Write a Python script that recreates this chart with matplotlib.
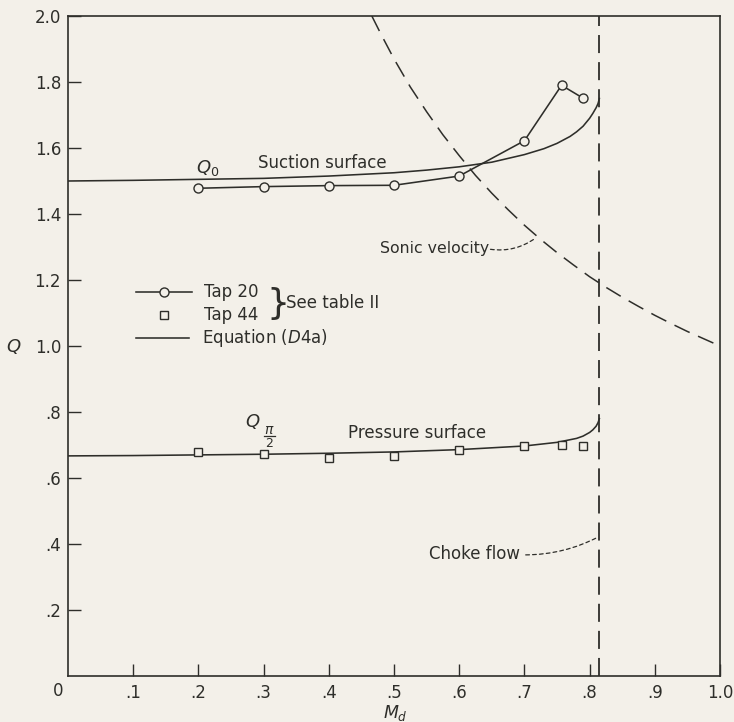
import matplotlib
matplotlib.use("Agg")
import matplotlib.pyplot as plt

# Tap measurements (see table II)
tap20_M = [0.20, 0.30, 0.40, 0.50, 0.60, 0.70, 0.757, 0.79]
tap20_Q = [1.478, 1.483, 1.486, 1.487, 1.515, 1.622, 1.79, 1.751]

tap44_M = [0.20, 0.30, 0.40, 0.50, 0.60, 0.70, 0.757, 0.79]
tap44_Q = [0.680, 0.673, 0.660, 0.667, 0.685, 0.697, 0.700, 0.697]

# Equation (D4a), suction surface (Q_0)
suction_M = [0.0, 0.10, 0.20, 0.30, 0.40, 0.50, 0.55, 0.60, 0.65, 0.70, 0.73,
             0.75, 0.77, 0.78, 0.79, 0.80, 0.805, 0.81, 0.813, 0.815]
suction_Q = [1.500, 1.502, 1.505, 1.508, 1.515, 1.525, 1.533, 1.543, 1.557,
             1.580, 1.598, 1.614, 1.635, 1.649, 1.666, 1.690, 1.705, 1.722,
             1.735, 1.750]

# Equation (D4a), pressure surface (Q_pi/2)
pressure_M = [0.0, 0.10, 0.20, 0.30, 0.40, 0.50, 0.60, 0.70, 0.75, 0.78,
              0.79, 0.80, 0.805, 0.81, 0.813, 0.815]
pressure_Q = [0.667, 0.668, 0.670, 0.672, 0.675, 0.679, 0.686, 0.697, 0.708,
              0.720, 0.727, 0.738, 0.746, 0.757, 0.768, 0.780]

# Sonic velocity boundary
sonic_M = [0.466, 0.48, 0.50, 0.525, 0.55, 0.575, 0.60, 0.625, 0.65, 0.675,
           0.70, 0.725, 0.75, 0.775, 0.80, 0.825, 0.85, 0.875, 0.90, 0.925,
           0.95, 0.975, 1.00]
sonic_Q = [2.000, 1.945, 1.870, 1.785, 1.710, 1.640, 1.577, 1.517, 1.463,
           1.413, 1.366, 1.323, 1.283, 1.246, 1.210, 1.178, 1.148, 1.120,
           1.093, 1.068, 1.044, 1.022, 1.000]

# Choke flow Mach number
choke_M = 0.815

x_ticks = [0.0, 0.1, 0.2, 0.3, 0.4, 0.5, 0.6, 0.7, 0.8, 0.9, 1.0]
x_labels = ["0", ".1", ".2", ".3", ".4", ".5", ".6", ".7", ".8", ".9", "1.0"]
y_ticks = [0.2, 0.4, 0.6, 0.8, 1.0, 1.2, 1.4, 1.6, 1.8, 2.0]
y_labels = [".2", ".4", ".6", ".8", "1.0", "1.2", "1.4", "1.6", "1.8", "2.0"]

paper = "#f3f0e9"
ink = "#2e2e2a"

plt.rcParams["font.family"] = ["DejaVu Sans"]
plt.rcParams["mathtext.fontset"] = "dejavusans"

fig = plt.figure(figsize=(7.34, 7.22), dpi=100, facecolor=paper)
ax = fig.add_axes([68 / 734, 1 - 676 / 722, (720 - 68) / 734, (676 - 16) / 722])
ax.set_facecolor(paper)

lw = 1.15
ax.plot(suction_M, suction_Q, color=ink, lw=lw)
ax.plot(pressure_M, pressure_Q, color=ink, lw=lw)
ax.plot(tap20_M, tap20_Q, color=ink, lw=lw, marker="o", ms=6.5,
        mfc=paper, mec=ink, mew=1.0, zorder=4)
ax.plot(tap44_M, tap44_Q, ls="none", marker="s", ms=6, mfc=paper,
        mec=ink, mew=1.0, zorder=4)
ax.plot(sonic_M, sonic_Q, color=ink, lw=1.1, dashes=(11, 6))
ax.plot([choke_M, choke_M], [0, 2.0], color=ink, lw=1.3, dashes=(10, 5))

ax.set_xlim(0, 1.0)
ax.set_ylim(0, 2.0)
ax.set_xticks(x_ticks[1:])
ax.set_xticklabels(x_labels[1:])
ax.set_yticks(y_ticks)
ax.set_yticklabels(y_labels)
ax.tick_params(direction="in", length=9, width=1.0, color=ink,
               labelcolor=ink, labelsize=12)
ax.tick_params(axis="x", pad=6)
ax.tick_params(axis="y", pad=5)
for s in ax.spines.values():
    s.set_color(ink)
    s.set_linewidth(1.2)

# origin label
ax.text(-0.015, -0.045, "0", ha="center", va="center",
        fontsize=12, color=ink)

fig.text(14 / 734, 1 - 347 / 722, "$Q$", ha="center", va="center",
         fontsize=13, color=ink)
fig.text(395 / 734, 1 - 713 / 722, "$M_d$", ha="center", va="center",
         fontsize=12.5, color=ink)

# curve labels
ax.text(0.215, 1.54, "$Q_0$", fontsize=13, color=ink, ha="center", va="center")
ax.text(0.39, 1.555, "Suction surface", fontsize=12, color=ink,
        ha="center", va="center")
ax.text(0.283, 0.772, "$Q$", fontsize=13, color=ink, ha="center", va="center")
ax.text(0.309, 0.744, r"$\pi$", fontsize=10, color=ink, ha="center",
        va="center")
ax.plot([0.300, 0.318], [0.726, 0.726], color=ink, lw=0.9)
ax.text(0.309, 0.704, "2", fontsize=9, color=ink, ha="center", va="center")
ax.text(0.535, 0.735, "Pressure surface", fontsize=12, color=ink,
        ha="center", va="center")
ax.text(0.562, 1.295, "Sonic velocity", fontsize=11.3, color=ink,
        ha="center", va="center")
ax.text(0.624, 0.37, "Choke flow", fontsize=12, color=ink,
        ha="center", va="center")

leader = dict(arrowstyle="-", color=ink, lw=0.9, linestyle=(0, (3, 2.5)),
              shrinkA=0, shrinkB=0)
ax.annotate("", xy=(0.717, 1.327), xytext=(0.648, 1.293),
            arrowprops=dict(connectionstyle="arc3,rad=0.2", **leader))
ax.annotate("", xy=(0.813, 0.421), xytext=(0.702, 0.367),
            arrowprops=dict(connectionstyle="arc3,rad=0.12", **leader))

# key
kx0, kx1 = 0.105, 0.19
ax.plot([kx0, kx1], [1.165, 1.165], color=ink, lw=lw)
ax.plot([(kx0 + kx1) / 2], [1.165], marker="o", ms=6.5, mfc=paper, mec=ink,
        mew=1.0)
ax.plot([(kx0 + kx1) / 2], [1.093], marker="s", ms=6, mfc=paper, mec=ink,
        mew=1.0, ls="none")
ax.plot([kx0, kx1 - 0.005], [1.024, 1.024], color=ink, lw=lw)
ax.text(0.208, 1.165, "Tap 20", fontsize=12, color=ink, va="center")
ax.text(0.208, 1.093, "Tap 44", fontsize=12, color=ink, va="center")
ax.text(0.205, 1.024, "Equation ($\\mathit{D}$4a)", fontsize=12, color=ink,
        va="center")
ax.text(0.322, 1.128, "}", fontsize=26, color=ink, va="center", ha="center")
ax.text(0.335, 1.13, "See table II", fontsize=12, color=ink, va="center")

fig.savefig("out.png", dpi=100, facecolor=paper)
